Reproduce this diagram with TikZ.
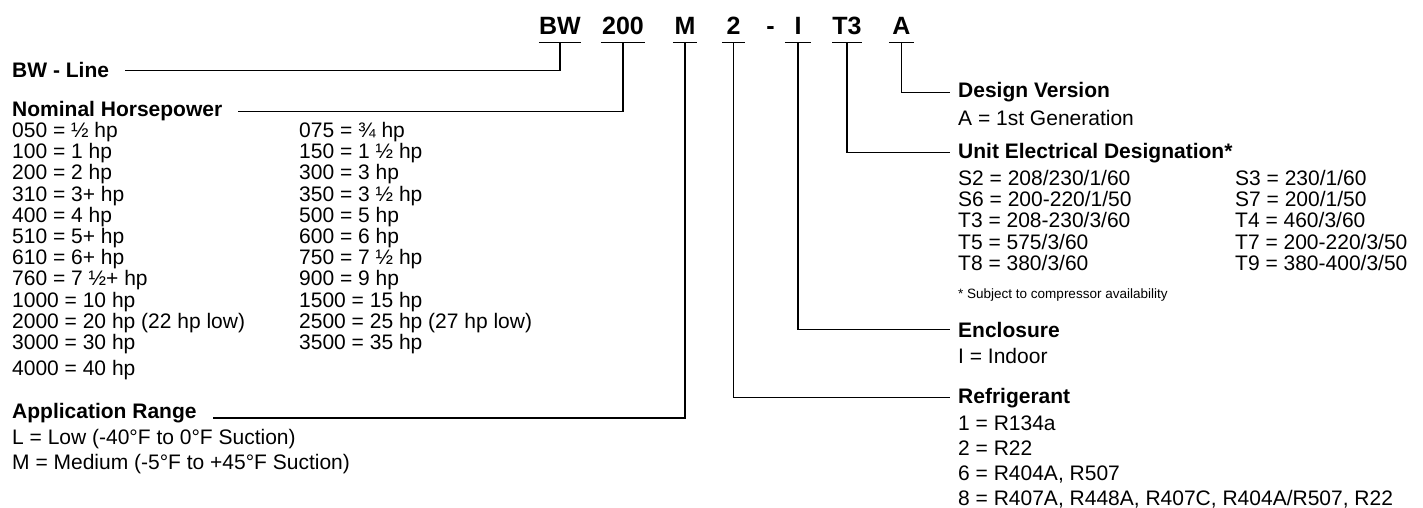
\documentclass[tikz,border=0pt]{standalone}
\usepackage{fontspec}
\setmainfont{Liberation Sans}

\begin{document}
\begin{tikzpicture}[x=1pt, y=-1pt,
    code/.style={font=\bfseries\fontsize{25}{25}\selectfont, anchor=base, inner xsep=0pt, inner ysep=0pt, text depth=7pt},
    lhead/.style={font=\bfseries\fontsize{21}{21}\selectfont, anchor=base west, inner xsep=16pt, inner ysep=0pt},
    rhead/.style={font=\bfseries\fontsize{21}{21}\selectfont, anchor=base west, inner xsep=8pt, inner ysep=0pt},
    body/.style={font=\fontsize{21}{21.2}\selectfont, align=left, anchor=north west, inner sep=0pt},
    uline/.style={line width=1.3pt},
    link/.style={line width=1.2pt}
]
\useasboundingbox (0,0) rectangle (1423,508);

% model code
\node[code, minimum width=32pt] (cBW) at (560,35) {BW};
\node[code, minimum width=44pt] (cHP) at (623,35) {200};
\node[code, minimum width=24pt] (cM) at (685,35) {M};
\node[code, minimum width=23pt] (cRef) at (733.5,35) {2};
\node[code] (cDash) at (770.5,35) {-};
\node[code, minimum width=26pt] (cI) at (798,35) {I};
\node[code, minimum width=26pt] (cT) at (847,35) {T3};
\node[code, minimum width=25pt] (cA) at (901.5,35) {A};
\foreach \c in {cBW,cHP,cM,cRef,cI,cT,cA}
    \draw[uline] (\c.south west) -- (\c.south east);

% left side
\node[lhead] (hLine) at (-4,78) {BW - Line};
\node[lhead] (hHP) at (-4,117) {Nominal Horsepower};
\node[body] (hpA) at (12,122) {050 = ½ hp\\100 = 1 hp\\200 = 2 hp\\310 = 3+ hp\\400 = 4 hp\\510 = 5+ hp\\610 = 6+ hp\\760 = 7 ½+ hp\\1000 = 10 hp\\2000 = 20 hp (22 hp low)\\3000 = 30 hp\\[5pt]4000 = 40 hp};
\node[body] (hpB) at (299,122) {075 = ¾ hp\\150 = 1 ½ hp\\300 = 3 hp\\350 = 3 ½ hp\\500 = 5 hp\\600 = 6 hp\\750 = 7 ½ hp\\900 = 9 hp\\1500 = 15 hp\\2500 = 25 hp (27 hp low)\\3500 = 35 hp};
\node[lhead] (hApp) at (-4,418) {Application Range};
\node[body] (appBody) at (12,429) {L = Low (-40°F to 0°F Suction)\\[4.3pt]M = Medium (-5°F to +45°F Suction)};

% right side
\node[rhead] (hDes) at (950,98) {Design Version};
\node[body, anchor=base west] (desBody) at (958,125) {A = 1st Generation};
\node[rhead] (hElec) at (950,158) {Unit Electrical Designation*};
\node[body] (elecA) at (958,170) {S2 = 208/230/1/60\\S6 = 200-220/1/50\\T3 = 208-230/3/60\\T5 = 575/3/60\\T8 = 380/3/60};
\node[body] (elecB) at (1235,170) {S3 = 230/1/60\\S7 = 200/1/50\\T4 = 460/3/60\\T7 = 200-220/3/50\\T9 = 380-400/3/50};
\node[body, anchor=base west, font=\fontsize{13.5}{14}\selectfont] (note) at (958,298) {* Subject to compressor availability};
\node[rhead] (hEnc) at (950,337) {Enclosure};
\node[body, anchor=base west] (encBody) at (958,363) {I = Indoor};
\node[rhead] (hRef) at (950,403) {Refrigerant};
\node[body] (refBody) at (958,416) {1 = R134a\\[3.8pt]2 = R22\\[3.8pt]6 = R404A, R507\\[3.8pt]8 = R407A, R448A, R407C, R404A/R507, R22};

% connectors
\draw[link] (cBW.south) |- (hLine.east);
\draw[link] (cHP.south) |- (hHP.east);
\draw[link] (cM.south) |- (hApp.base east);
\draw[link] (cA.south) |- (hDes.west);
\draw[link] (cT.south) |- (hElec.west);
\draw[link] (cI.south) |- (hEnc.west);
\draw[link] (cRef.south) |- (hRef.west);
\end{tikzpicture}
\end{document}
